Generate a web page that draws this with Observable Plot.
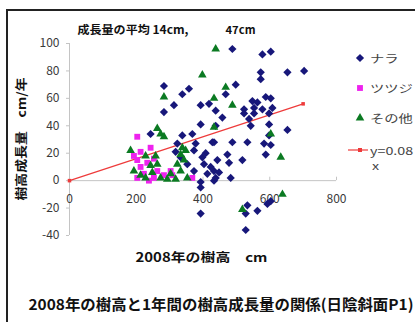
<!DOCTYPE html>
<html><head><meta charset="utf-8">
<script src="https://cdn.jsdelivr.net/npm/d3@7"></script>
<script src="https://cdn.jsdelivr.net/npm/@observablehq/plot@0.6"></script>
<style>
body{margin:0;background:#fff;}
#wrap{position:relative;width:415px;height:322px;overflow:hidden;background:#fff;font-family:"Noto Sans CJK JP",sans-serif;}
#frame{position:absolute;left:6px;top:9px;width:430px;height:330px;border-left:2px solid #222;border-top:2px solid #222;}
#chart{position:absolute;left:0;top:0;}
#legend{position:absolute;left:348px;top:0;width:67px;}
.row{position:absolute;left:0;height:16px;display:flex;align-items:center;white-space:nowrap;font-size:11px;color:#444;}
.row svg{flex:none;}
.row span{display:inline-block;transform:scaleX(1.3);transform-origin:left center;margin-left:2px;}
</style></head>
<body><div id="wrap"><div id="frame"></div><div id="chart"></div><div id="legend"></div></div>
<script>
// ---- data ----
const naraX = [488,578,603,573,573,653,703,498,468,283,283,338,358,313,393,418,438,563,588,603,553,578,608,523,393,438,243,338,368,378,428,323,318,333,403,423,443,413,393,433,353,373,523,553,598,598,543,653,433,488,533,583,603,588,473,478,518,433,448,438,483,393,393,533,528,563,593,603,528,373,398,538,548,598,458,408];
const naraY = [96,92,94,79,74,79,80,70,63,69,50,63,67,55,55,56,51,57,61,60,53,52,53,52,41,40,34,33,34,27,28,27,21,17,12,10,15,5,-1,0,12,7,49,49,49,41,40,37,28,28,28,27,26,19,19,13,15,7,6,2,2,-5,-24,-18,-24,-22,-17,-15,-36,22,17,45,58,33,46,20];
const tsutsujiX = [203,213,243,233,203,253,223,203,253,263,213,303,308,368,193,238,283];
const tsutsujiY = [32,21,24,13,15,16,5,2,2,7,10,7,4,2,18,0,4];
const otherX = [438,398,283,468,433,488,433,263,273,283,183,603,633,638,518,228,258,243,263,228,248,273,193,333,343,323,303,333,353,293,318,338,348,213];
const otherY = [96,77,61,68,60,55,39,38,34,32,22,34,17,-10,-21,18,18,11,12,2,6,2,7,19,15,12,5,7,2,1,1,24,22,4];
const fitX = [0, 700];
const fitY = [0, 56];
const xTicks = [0,200,400,600,800];
const yTicks = [-40,-20,0,20,40,60,80,100];
const seriesNames = ["ナラ","ツツジ","その他","y=0.08"];
const seriesNote = "x";
const meanLabels = ["成長量の平均 14cm,", "47cm"];
const xTitle = "2008年の樹高　cm";
const yTitle = "樹高成長量　cm/年";
const caption = "2008年の樹高と1年間の樹高成長量の関係(日陰斜面P1)";

const colors = {nara:"#17177a", tsutsuji:"#ee22ee", other:"#0b7a22", fit:"#ee3b3b"};
const toPts = (xs, ys) => xs.map((x,i)=>({x, y: ys[i]}));
const nara = toPts(naraX, naraY), tsutsuji = toPts(tsutsujiX, tsutsujiY), other = toPts(otherX, otherY), fit = toPts(fitX, fitY);

const font = '"Noto Sans CJK JP", sans-serif';
const plot = Plot.plot({
  width: 415, height: 322,
  marginLeft: 69, marginRight: 79, marginTop: 43, marginBottom: 87,
  x: {domain: [0, 800], axis: null},
  y: {domain: [-40, 100], axis: null},
  style: {fontFamily: font, background: "transparent", overflow: "visible"},
  marks: [
    Plot.ruleY([0], {x1: 0, x2: 800, stroke: "#c4c4c4"}),
    Plot.ruleX(xTicks, {x: d=>d, y1: 0, y2: 2.5, stroke: "#c4c4c4"}),
    Plot.axisY({anchor: "left", label: null, ticks: yTicks, tickSize: 3, tickPadding: 7, stroke: "#c4c4c4", fill: "#3a3a3a", fontSize: 12, tickFormat: d=>String(d)}),
    Plot.ruleX([0], {y1: -40, y2: 100, stroke: "#c4c4c4"}),
    Plot.text(xTicks, {x: d=>d, y: 0, dy: 19, text: d=>String(d), fill: "#3a3a3a", fontSize: 12}),
    Plot.line(fit, {x: "x", y: "y", stroke: colors.fit, strokeWidth: 1.2}),
    Plot.dot(fit, {x: "x", y: "y", symbol: "square", r: 2, fill: colors.fit}),
    Plot.dot(nara, {x: "x", y: "y", symbol: "diamond2", r: 3.7, fill: colors.nara, stroke: "none"}),
    Plot.dot(tsutsuji, {x: "x", y: "y", symbol: "square", r: 3.3, fill: colors.tsutsuji, stroke: "none"}),
    Plot.dot(other, {x: "x", y: "y", symbol: "triangle", r: 3.2, fill: colors.other, stroke: "none"}),
    Plot.text([meanLabels[0]], {frameAnchor: "top-left", dx: 8, dy: -13, lineAnchor: "middle", textAnchor: "start", fontSize: 11, fontWeight: "bold", fill: "#111"}),
    Plot.text([meanLabels[1]], {frameAnchor: "top-left", dx: 156, dy: -13, lineAnchor: "middle", textAnchor: "start", fontSize: 11, fontWeight: "bold", fill: "#111"}),
    Plot.text([yTitle], {frameAnchor: "left", dx: -47, dy: -0.5, rotate: -90, textAnchor: "middle", lineAnchor: "middle", fontSize: 12, fontWeight: "bold", fill: "#111"}),
    Plot.text([xTitle], {frameAnchor: "bottom", dy: 22, dx: -1.5, textAnchor: "middle", lineAnchor: "middle", fontSize: 12.5, fontWeight: "bold", fill: "#111"}),
    Plot.text([caption], {frameAnchor: "bottom-left", dx: -41, dy: 70, lineAnchor: "middle", textAnchor: "start", fontSize: 15, fontWeight: "bold", fill: "#111"})
  ]
});
// stretch texts horizontally like the reference (which is a widened image)
const stretch = {[meanLabels[0]]: 111, [meanLabels[1]]: 30, [yTitle]: 123, [xTitle]: 132, [caption]: 385};
plot.querySelectorAll("text").forEach(t => {
  const L = stretch[t.textContent];
  if (L) { t.setAttribute("textLength", L); t.setAttribute("lengthAdjust", "spacingAndGlyphs"); }
});
document.getElementById("chart").appendChild(plot);

// ---- legend ----
const legend = document.getElementById("legend");
const sym = {nara: d3.symbolDiamond2, tsutsuji: d3.symbolSquare, other: d3.symbolTriangle};
const sizes = {nara: Math.PI*3.7*3.7, tsutsuji: Math.PI*3.3*3.3, other: Math.PI*3.2*3.2};
const keys = ["nara","tsutsuji","other","fit"];
const rowY = [58, 88, 118, 150];
keys.forEach((k, i) => {
  const row = document.createElement("div");
  row.className = "row";
  row.style.top = (rowY[i] - 8) + "px";
  let svg;
  if (k === "fit") {
    svg = `<svg width="20" height="16"><line x1="0" y1="8" x2="20" y2="8" stroke="${colors.fit}" stroke-width="1.2"/><rect x="10" y="6" width="4" height="4" fill="${colors.fit}"/></svg>`;
  } else {
    const p = d3.symbol(sym[k], sizes[k])();
    svg = `<svg width="20" height="16"><path transform="translate(12,8)" d="${p}" fill="${colors[k]}"/></svg>`;
  }
  row.innerHTML = svg + `<span>${seriesNames[i]}</span>`;
  legend.appendChild(row);
});
const note = document.createElement("div");
note.className = "row";
note.style.top = "157px";
note.style.left = "22px";
note.innerHTML = `<span>${seriesNote}</span>`;
legend.appendChild(note);
</script></body></html>
